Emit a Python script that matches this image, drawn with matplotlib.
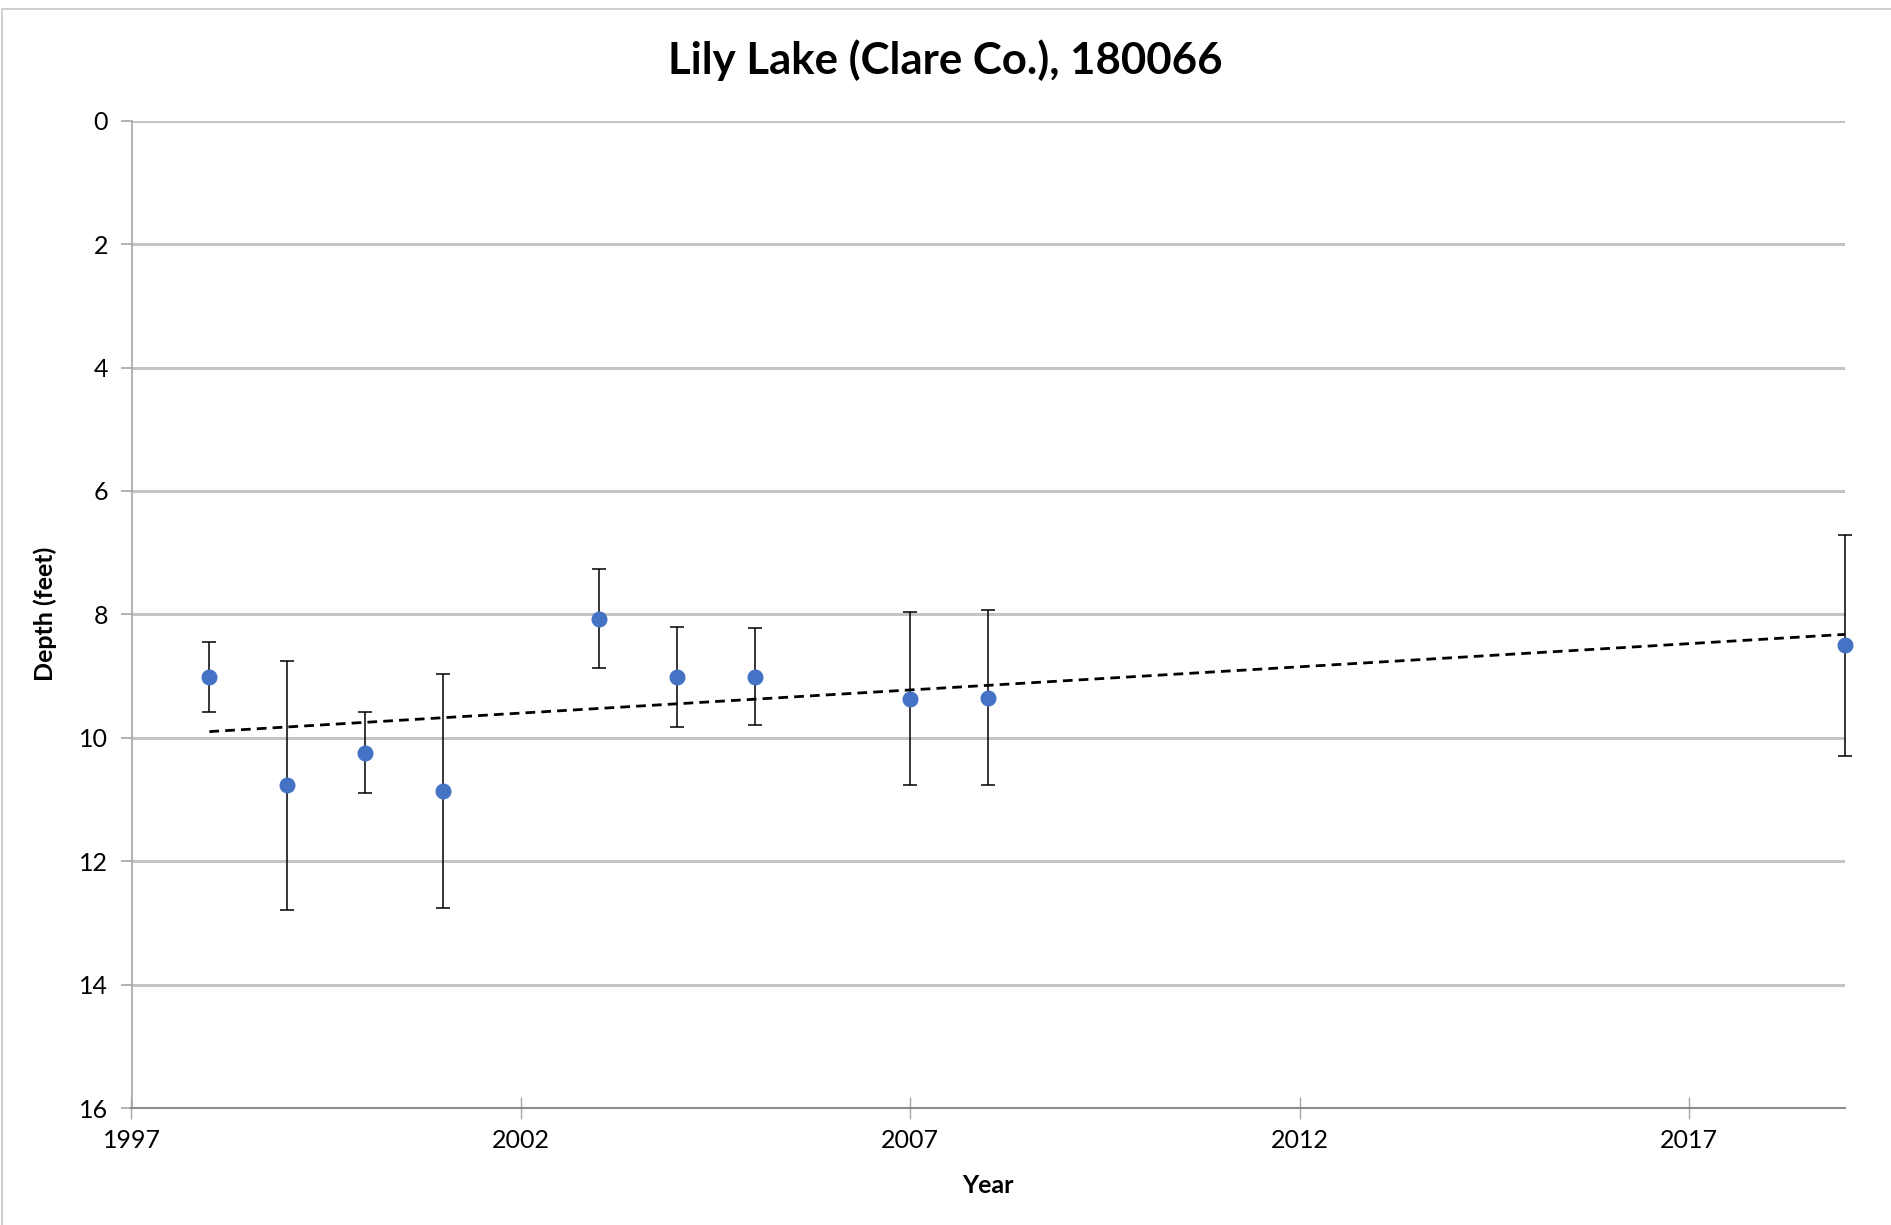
import matplotlib
matplotlib.use("Agg")
import matplotlib.pyplot as plt
import numpy as np
from matplotlib.patches import Rectangle

# depth readings per year, with the +/- spread drawn as error bars
years = np.array([1998, 1999, 2000, 2001, 2003, 2004, 2005, 2007, 2008, 2019])
depth = np.array([9.02, 10.77, 10.24, 10.86, 8.07, 9.01, 9.01, 9.37, 9.35, 8.50])
spread = np.array([0.57, 2.02, 0.66, 1.90, 0.80, 0.81, 0.79, 1.40, 1.42, 1.79])

x_ticks = [1997, 2002, 2007, 2012, 2017]
y_ticks = [0, 2, 4, 6, 8, 10, 12, 14, 16]

plt.rcParams["font.family"] = ["Lato", "DejaVu Sans"]

fig = plt.figure(figsize=(18.91, 12.25), dpi=100)
ax = fig.add_axes([131.5 / 1891, 1 - 1108 / 1225, (1845 - 131.5) / 1891, (1108 - 120.7) / 1225])

# thin outer frame like the spreadsheet chart area
fig.patches.append(Rectangle((2 / 1891, -0.01), 1.0, 1 - 9 / 1225 + 0.01,
                             transform=fig.transFigure, fill=False,
                             ec="#c8c8c8", lw=1.2))

eb = ax.errorbar(years, depth, yerr=spread, fmt="none", ecolor="black",
                 elinewidth=1.1, capsize=5, capthick=1.1, zorder=3)
for art in eb.get_children():
    art.set_clip_on(False)
ax.plot(years, depth, "o", color="#4472C4", ms=10.5, zorder=4, clip_on=False)

# linear trendline
k, b = np.polyfit(years, depth, 1)
tx = np.array([years.min(), years.max()])
ax.plot(tx, k * tx + b, ls=(0, (3.5, 2.2)), color="black", lw=2.0, zorder=3)

ax.set_xlim(1997, 2019)
ax.set_ylim(16, 0)
ax.set_xticks(x_ticks)
ax.set_yticks(y_ticks)
ax.yaxis.grid(True, color="#c4c4c4", lw=2.2)
ax.set_axisbelow(True)

for s in ("top", "right"):
    ax.spines[s].set_visible(False)
ax.spines["left"].set_color("#a6a6a6")
ax.spines["left"].set_linewidth(1.2)
ax.spines["bottom"].set_color("#8c8c8c")
ax.spines["bottom"].set_linewidth(1.5)
ax.tick_params(axis="y", length=8, width=1.2, color="#a6a6a6",
               labelsize=18, pad=9)
ax.tick_params(axis="x", direction="inout", length=16, width=1.0,
               color="#a6a6a6", labelsize=18, pad=7)

ax.set_xlabel("Year", fontsize=18, fontweight="bold", labelpad=16)
ax.set_ylabel("Depth (feet)", fontsize=18, fontweight="bold", labelpad=16)
fig.suptitle("Lily Lake (Clare Co.), 180066", fontsize=31.5,
             fontweight="bold", y=1 - 60 / 1225, va="center")

fig.savefig("out.png", dpi=100)
